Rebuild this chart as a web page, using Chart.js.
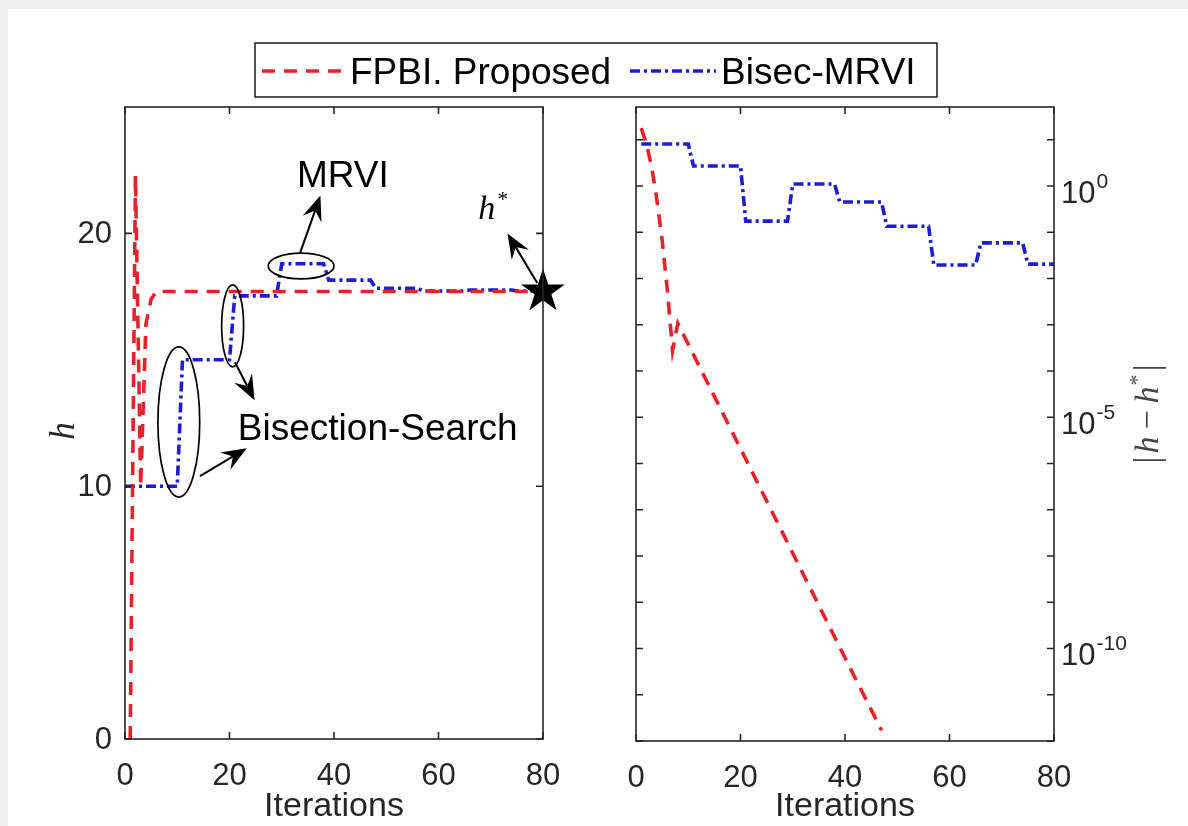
<!DOCTYPE html>
<html lang="en">
<head>
<meta charset="utf-8">
<title>FPBI vs Bisec-MRVI</title>
<script src="https://cdn.jsdelivr.net/npm/chart.js@4.4.1/dist/chart.umd.min.js"></script>
<style>
    html, body { margin: 0; padding: 0; background: #efefef; overflow: hidden; }
    #paper { position: absolute; left: 8px; top: 9px; width: 1180px; height: 817px; background: #fff; }
    canvas { position: absolute; left: 0; top: 0; }
</style>
</head>
<body>
<div id="paper"></div>
<canvas id="hChart" width="1188" height="826"></canvas>
<canvas id="errChart" width="1188" height="826"></canvas>
<script>
// ---------- data ----------
const xTicks = [0, 20, 40, 60, 80];
const hTicks = [0, 10, 20];
const errTicks = [1e-12, 1e-11, 1e-10, 1e-9, 1e-8, 1e-7, 1e-6, 1e-5, 1e-4, 1e-3, 1e-2, 1e-1, 1e0, 1e1];
const errLabelExp = [0, -5, -10];

// left panel: h vs iterations
const fpbiIter = [1, 2, 3, 4, 5, 6, 80];
const fpbiH = [0, 22.3, 10, 16.4, 17.4, 17.7, 17.7];
const bisecIter = [0, 10, 11, 20, 21, 29, 30, 38, 39, 47, 48, 56, 57, 65, 66, 74, 75, 80];
const bisecH = [10, 10, 15, 15, 17.53, 17.53, 18.8, 18.8, 18.15, 18.15, 17.83, 17.83, 17.72, 17.72, 17.76, 17.76, 17.72, 17.72];
const hStar = [80, 17.7];

// right panel: |h - h*| vs iterations
const fpbiErrIter = [1, 2, 3, 4, 5, 6, 7, 8, 20, 30, 40, 47];
const fpbiErr = [17.8, 8.1, 2.6, 0.5, 0.068, 0.0056, 2.8e-4, 1.07e-3, 2.1e-6, 1.15e-8, 6.3e-11, 1.7e-12];
const bisecErrIter = [1, 10, 11, 20, 21, 29, 30, 38, 39, 47, 48, 56, 57, 65, 66, 74, 75, 80];
const bisecErr = [8.1, 8.1, 2.7, 2.7, 0.174, 0.174, 1.1, 1.1, 0.45, 0.45, 0.135, 0.135, 0.0195, 0.0195, 0.059, 0.059, 0.0204, 0.0204];

// annotations on the left panel, in data units (iteration, h)
const ellipses = [
    { x: 10.3, y: 12.54, rx: 4.0, ry: 2.97 },
    { x: 20.6, y: 16.34, rx: 2.1, ry: 1.62 },
    { x: 33.7, y: 18.71, rx: 6.3, ry: 0.51 }
];
const arrows = [
    { from: [14.35, 10.4], to: [23.3, 11.5] },
    { from: [21.05, 14.9], to: [24.8, 13.4] },
    { from: [33.5, 19.22], to: [37.4, 21.5] },
    { from: [78.9, 18.04], to: [73.2, 20.0] }
];
const notes = [
    { text: 'MRVI', x: 41.7, y: 21.84, align: 'center' },
    { text: 'Bisection-Search', x: 21.6, y: 11.83, align: 'left' }
];
const hStarNote = { x: 67.6, y: 20.57 };

document.addEventListener('DOMContentLoaded', () => {
    const W = 1188, H = 826;
    const INK = '#262626';
    const RED = '#e8212b';
    const BLUE = '#1c1cd2';
    const SANS = '"Liberation Sans", Arial, Helvetica, sans-serif';
    const SERIF = '"Liberation Serif", "Times New Roman", serif';
    const TICK_LEN = 7;
    const RED_DASH = [13, 9];
    const BLUE_DASH = [10, 4, 3, 4];

    const leftArea = { left: 125, right: 543, top: 107, bottom: 739 };
    const rightArea = { left: 636, right: 1054, top: 107, bottom: 741 };

    const toPoints = (xs, ys) => xs.map((x, i) => ({ x, y: ys[i] }));
    const redLine = (data) => ({ data, borderColor: RED, borderWidth: 3.6, borderDash: RED_DASH, fill: false });
    const blueLine = (data) => ({ data, borderColor: BLUE, borderWidth: 3.6, borderDash: BLUE_DASH, fill: false });

    // box + inward ticks, like a matlab axes
    const drawBox = (ctx, a, x, y, yTickVals) => {
        ctx.save();
        ctx.strokeStyle = INK;
        ctx.lineWidth = 1.6;
        ctx.strokeRect(a.left, a.top, a.right - a.left, a.bottom - a.top);
        ctx.beginPath();
        xTicks.forEach(v => {
            const px = x.getPixelForValue(v);
            ctx.moveTo(px, a.bottom); ctx.lineTo(px, a.bottom - TICK_LEN);
            ctx.moveTo(px, a.top); ctx.lineTo(px, a.top + TICK_LEN);
        });
        yTickVals.forEach(v => {
            const py = y.getPixelForValue(v);
            ctx.moveTo(a.left, py); ctx.lineTo(a.left + TICK_LEN, py);
            ctx.moveTo(a.right, py); ctx.lineTo(a.right - TICK_LEN, py);
        });
        ctx.stroke();
        ctx.fillStyle = INK;
        ctx.font = `31px ${SANS}`;
        ctx.textAlign = 'center';
        ctx.textBaseline = 'alphabetic';
        xTicks.forEach(v => ctx.fillText(String(v), x.getPixelForValue(v), a.bottom + 46));
        ctx.font = `34px ${SANS}`;
        ctx.fillText('Iterations', (a.left + a.right) / 2 + (a === rightArea ? 18 : 0), 816);
        ctx.restore();
    };

    const drawArrow = (ctx, x1, y1, x2, y2) => {
        const ang = Math.atan2(y2 - y1, x2 - x1);
        const len = 25, half = 10, notch = 16;
        const c = Math.cos(ang), s = Math.sin(ang);
        const bx = x2 - len * c, by = y2 - len * s;
        ctx.beginPath();
        ctx.moveTo(x1, y1);
        ctx.lineTo(x2 - notch * c, y2 - notch * s);
        ctx.stroke();
        ctx.beginPath();
        ctx.moveTo(x2, y2);
        ctx.lineTo(bx - half * s, by + half * c);
        ctx.lineTo(x2 - notch * c, y2 - notch * s);
        ctx.lineTo(bx + half * s, by - half * c);
        ctx.closePath();
        ctx.fill();
    };

    const drawStar = (ctx, cx, cy, R) => {
        const r = R * 0.382;
        ctx.beginPath();
        for (let i = 0; i < 10; i++) {
            const rad = i % 2 === 0 ? R : r;
            const ang = -Math.PI / 2 + i * Math.PI / 5;
            const px = cx + rad * Math.cos(ang), py = cy + rad * Math.sin(ang);
            i === 0 ? ctx.moveTo(px, py) : ctx.lineTo(px, py);
        }
        ctx.closePath();
        ctx.fill();
    };

    // rich text pieces drawn one after another (for italic symbols and superscripts)
    const drawPieces = (ctx, pieces, startX, baseY) => {
        let cx = startX;
        pieces.forEach(p => {
            ctx.font = p.font;
            ctx.fillText(p.t, cx, baseY + (p.dy || 0));
            cx += ctx.measureText(p.t).width + (p.gap || 0);
        });
        return cx - startX;
    };
    const piecesWidth = (ctx, pieces) => pieces.reduce((w, p) => { ctx.font = p.font; return w + ctx.measureText(p.t).width + (p.gap || 0); }, 0);

    const drawLegend = (ctx) => {
        ctx.save();
        ctx.fillStyle = '#fff';
        ctx.fillRect(255, 43, 682, 54);
        ctx.strokeStyle = INK;
        ctx.lineWidth = 1.6;
        ctx.strokeRect(255, 43, 682, 54);
        ctx.lineWidth = 3.6;
        ctx.strokeStyle = RED;
        ctx.setLineDash(RED_DASH);
        ctx.beginPath(); ctx.moveTo(262, 71); ctx.lineTo(345, 71); ctx.stroke();
        ctx.strokeStyle = BLUE;
        ctx.setLineDash(BLUE_DASH);
        ctx.beginPath(); ctx.moveTo(630, 71); ctx.lineTo(716, 71); ctx.stroke();
        ctx.setLineDash([]);
        ctx.fillStyle = '#000';
        ctx.font = `37px ${SANS}`;
        ctx.textAlign = 'left';
        ctx.fillText('FPBI. Proposed', 350, 84);
        ctx.fillText('Bisec-MRVI', 721, 84);
        ctx.restore();
    };

    const hDecor = {
        id: 'hDecor',
        afterDatasetsDraw(chart) {
            const { ctx, chartArea: a, scales: { x, y } } = chart;
            ctx.save();
            ctx.strokeStyle = '#000';
            ctx.fillStyle = '#000';
            ctx.lineWidth = 1.7;
            ellipses.forEach(e => {
                const cx = x.getPixelForValue(e.x), cy = y.getPixelForValue(e.y);
                const rx = x.getPixelForValue(e.x + e.rx) - cx, ry = cy - y.getPixelForValue(e.y + e.ry);
                ctx.beginPath();
                ctx.ellipse(cx, cy, rx, ry, 0, 0, Math.PI * 2);
                ctx.stroke();
            });
            ctx.lineWidth = 2;
            arrows.forEach(ar => drawArrow(ctx,
                x.getPixelForValue(ar.from[0]), y.getPixelForValue(ar.from[1]),
                x.getPixelForValue(ar.to[0]), y.getPixelForValue(ar.to[1])));
            drawStar(ctx, x.getPixelForValue(hStar[0]), y.getPixelForValue(hStar[1]), 23);

            ctx.font = `37px ${SANS}`;
            notes.forEach(n => {
                ctx.textAlign = n.align;
                ctx.fillText(n.text, x.getPixelForValue(n.x), y.getPixelForValue(n.y));
            });
            ctx.textAlign = 'left';
            drawPieces(ctx, [
                { t: 'h', font: `italic 34px ${SERIF}`, gap: 2 },
                { t: '*', font: `22px ${SERIF}`, dy: -13 }
            ], x.getPixelForValue(hStarNote.x), y.getPixelForValue(hStarNote.y));
            ctx.restore();

            drawBox(ctx, a, x, y, hTicks);

            ctx.save();
            ctx.fillStyle = INK;
            ctx.font = `31px ${SANS}`;
            ctx.textAlign = 'right';
            ctx.textBaseline = 'middle';
            hTicks.forEach(v => ctx.fillText(String(v), a.left - 13, y.getPixelForValue(v) + 1));
            ctx.translate(74, 431);
            ctx.rotate(-Math.PI / 2);
            ctx.textAlign = 'center';
            ctx.textBaseline = 'alphabetic';
            ctx.font = `italic 35px ${SERIF}`;
            ctx.fillText('h', 0, 0);
            ctx.restore();

            drawLegend(ctx);
        }
    };

    const errDecor = {
        id: 'errDecor',
        afterDatasetsDraw(chart) {
            const { ctx, chartArea: a, scales: { x, y } } = chart;
            drawBox(ctx, a, x, y, errTicks);
            ctx.save();
            ctx.fillStyle = INK;
            ctx.textAlign = 'left';
            errLabelExp.forEach(e => {
                const py = y.getPixelForValue(Math.pow(10, e));
                ctx.font = `31px ${SANS}`;
                ctx.fillText('10', a.right + 7, py + 17);
                const w = ctx.measureText('10').width;
                ctx.font = `21px ${SANS}`;
                ctx.fillText(String(e), a.right + 8 + w, py + 2);
            });
            // |h - h*| rotated label
            ctx.fillStyle = '#444';
            const pieces = [
                { t: '|', font: `36px ${SERIF}`, gap: 3 },
                { t: 'h', font: `italic 34px ${SERIF}`, gap: 7 },
                { t: '\u2212', font: `34px ${SERIF}`, gap: 7 },
                { t: 'h', font: `italic 34px ${SERIF}`, gap: 1 },
                { t: '*', font: `22px ${SERIF}`, dy: -14, gap: 3 },
                { t: '|', font: `36px ${SERIF}` }
            ];
            ctx.translate(1158, 414);
            ctx.rotate(-Math.PI / 2);
            const w = piecesWidth(ctx, pieces);
            drawPieces(ctx, pieces, -w / 2, 0);
            ctx.restore();
        }
    };

    const makeChart = (id, area, datasets, yScale, decor) => new Chart(document.getElementById(id), {
        type: 'line',
        data: { datasets },
        options: {
            responsive: false,
            animation: false,
            devicePixelRatio: 1,
            events: [],
            layout: { padding: { left: area.left, right: W - area.right, top: area.top, bottom: H - area.bottom } },
            elements: { point: { radius: 0 }, line: { tension: 0 } },
            scales: {
                x: { type: 'linear', min: 0, max: 80, display: false },
                y: Object.assign({ display: false }, yScale)
            },
            plugins: { legend: { display: false }, tooltip: { enabled: false } }
        },
        plugins: [decor]
    });

    makeChart('hChart', leftArea, [
        redLine(toPoints(fpbiIter, fpbiH)),
        blueLine(toPoints(bisecIter, bisecH))
    ], { type: 'linear', min: 0, max: 25 }, hDecor);

    makeChart('errChart', rightArea, [
        redLine(toPoints(fpbiErrIter, fpbiErr)),
        blueLine(toPoints(bisecErrIter, bisecErr))
    ], { type: 'logarithmic', min: 1e-12, max: 51 }, errDecor);
});
</script>
</body>
</html>
